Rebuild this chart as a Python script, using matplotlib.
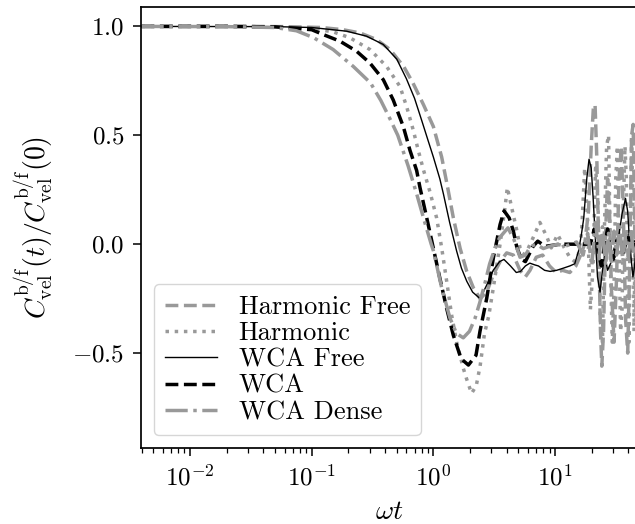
import matplotlib
matplotlib.use('Agg')
from matplotlib import pyplot as plt
from matplotlib.ticker import MultipleLocator
import numpy as np

plt.rcParams['font.family'] = 'serif'
plt.rcParams['font.serif'] = ['cmr10']
plt.rcParams['mathtext.fontset'] = 'cm'
plt.rcParams['axes.formatter.use_mathtext'] = True
plt.rcParams['axes.linewidth'] = 1.25

# Harmonic Free
hf_t = [0.004, 0.02, 0.06, 0.12, 0.18, 0.25, 0.34, 0.44, 0.57, 0.68, 0.83, 1.0, 1.17, 1.3,
        1.46, 1.66, 1.88, 2.13, 2.42, 2.74, 3.11, 3.53, 4.0, 4.54, 5.15, 5.7, 6.22, 7.0, 7.9,
        9.0, 10.2, 11.5, 13.2, 14.8, 16.2, 17.5, 18.8, 19.8, 20.6, 21.3, 22.0, 22.8, 23.6,
        24.2, 25.0, 26.0, 27.0, 28.0, 29.0, 30.5, 32.0, 33.5, 35.0, 36.5, 38.0, 39.5, 41.0,
        42.5, 43.8, 45.0, 46.5]
hf_c = [1.0, 1.0, 0.999, 0.995, 0.985, 0.97, 0.94, 0.894, 0.816, 0.74, 0.64, 0.54, 0.40, 0.27,
        0.12, -0.02, -0.125, -0.2, -0.25, -0.22, -0.14, -0.08, -0.04, -0.05, -0.12, -0.15, -0.12,
        -0.06, -0.05, -0.1, -0.13, -0.12, -0.13, -0.1, -0.05, 0.0, 0.15, 0.45, 0.62, 0.64, 0.4,
        0.0, -0.4, -0.56, -0.4, 0.05, 0.3, 0.15, -0.2, -0.45, -0.15, 0.3, 0.45, 0.1, -0.35,
        -0.5, -0.1, 0.5, 0.55, 0.1, -0.45]

# Harmonic
h_t = [0.004, 0.02, 0.06, 0.1, 0.15, 0.206, 0.301, 0.413, 0.532, 0.604, 0.684, 0.752, 0.83,
       0.938, 1.064, 1.17, 1.286, 1.413, 1.553, 1.762, 1.878, 2.06, 2.25, 2.42, 2.63, 2.85,
       3.11, 3.53, 3.88, 4.05, 4.4, 4.86, 5.15, 5.5, 6.0, 6.6, 7.5, 8.5, 9.3, 10.5, 11.9,
       13.2, 14.5, 15.5, 16.5, 17.5, 18.5, 19.5, 20.5, 21.5, 22.5, 23.5, 24.5, 25.5, 26.5,
       27.5, 28.5, 29.5, 30.5, 31.5, 32.5, 33.5, 34.5, 35.5, 36.5, 37.5, 38.5, 39.5, 40.5,
       41.5, 42.5, 43.5, 44.5, 45.5, 47.0]
h_c = [1.0, 1.0, 0.998, 0.99, 0.975, 0.948, 0.894, 0.816, 0.724, 0.63, 0.523, 0.43, 0.34,
       0.24, 0.12, -0.017, -0.17, -0.326, -0.45, -0.57, -0.62, -0.685, -0.65, -0.56, -0.41,
       -0.33, -0.2, 0.0, 0.17, 0.26, 0.168, 0.06, -0.017, -0.048, -0.02, 0.03, 0.1, 0.037,
       -0.017, 0.045, -0.017, -0.06, -0.08, -0.05, 0.05, 0.35, 0.1, -0.3, -0.1, 0.35, 0.2,
       -0.35, -0.45, 0.1, 0.45, 0.5, -0.1, -0.45, -0.2, 0.3, 0.45, 0.0, -0.4, -0.3, 0.2,
       0.45, 0.3, -0.3, -0.45, 0.1, 0.5, 0.2, -0.4, 0.1, 0.3]

# WCA Free
wf_t = [0.004, 0.05, 0.1, 0.194, 0.283, 0.388, 0.5, 0.6, 0.7, 0.8, 0.9, 1.0, 1.13, 1.21, 1.36,
        1.55, 1.7, 1.88, 2.1, 2.42, 2.73, 3.1, 3.5, 3.8, 4.3, 4.8, 5.2, 5.7, 6.2, 6.8, 7.3,
        8.2, 9.1, 10.3, 11.7, 13.2, 14.5, 15.6, 16.5, 17.2, 18.2, 19.0, 19.8, 20.5, 21.3,
        22.3, 23.4, 24.5, 25.6, 27.0, 29.0, 31.0, 33.0, 35.5, 37.9, 39.5, 41.0, 43.6, 45.0,
        47.0]
wf_c = [1.0, 0.999, 0.995, 0.978, 0.955, 0.917, 0.85, 0.76, 0.67, 0.57, 0.48, 0.40, 0.30, 0.23,
        0.10, -0.03, -0.11, -0.17, -0.22, -0.25, -0.19, -0.12, -0.08, -0.07, -0.10, -0.13,
        -0.125, -0.1, -0.087, -0.095, -0.1, -0.12, -0.125, -0.12, -0.11, -0.1, -0.09, -0.03,
        0.05, 0.12, 0.3, 0.39, 0.35, 0.22, 0.05, -0.15, -0.22, -0.12, -0.05, -0.12, -0.08,
        -0.06, 0.02, 0.14, 0.21, 0.15, 0.0, -0.15, -0.1, 0.05]

# WCA
w_t = [0.004, 0.02, 0.05, 0.1, 0.124, 0.171, 0.234, 0.301, 0.388, 0.468, 0.566, 0.643, 0.729,
       0.776, 0.881, 0.998, 1.13, 1.286, 1.458, 1.69, 1.94, 2.24, 2.415, 2.74, 3.11, 3.53,
       3.81, 4.2, 4.54, 4.86, 5.3, 5.7, 6.6, 7.2, 8.3, 11.0, 13.0, 15.0, 17.0, 19.5, 21.0,
       22.5, 24.0, 25.5, 27.0, 28.5, 30.0, 32.0, 34.0, 36.0, 38.0, 40.0, 42.0, 45.0, 47.0]
w_c = [1.0, 1.0, 0.998, 0.985, 0.963, 0.932, 0.886, 0.832, 0.755, 0.662, 0.54, 0.43, 0.338,
       0.26, 0.122, -0.017, -0.156, -0.295, -0.418, -0.526, -0.555, -0.51, -0.40, -0.25,
       -0.063, 0.09, 0.153, 0.12, 0.06, -0.017, -0.07, -0.08, -0.01, 0.014, -0.01, 0.0, 0.0,
       0.0, 0.0, 0.0, 0.07, -0.03, -0.1, 0.0, 0.07, -0.03, -0.07, 0.02, 0.03, -0.04, 0.0,
       0.04, -0.03, 0.01, 0.0]

# WCA Dense
wd_t = [0.004, 0.02, 0.05, 0.075, 0.104, 0.15, 0.22, 0.305, 0.37, 0.445, 0.51, 0.62, 0.73,
        0.85, 0.96, 1.0, 1.17, 1.37, 1.55, 1.76, 1.98, 2.2, 2.4, 2.65, 2.9, 3.2, 3.5, 4.1,
        4.6, 5.15, 5.7, 6.3, 7.0, 8.0, 9.0, 10.5, 12.0, 13.5, 15.0, 17.0, 18.5, 20.0, 21.5,
        23.0, 24.5, 26.0, 27.5, 29.0, 30.5, 32.0, 34.0, 36.0, 38.0, 40.0, 42.0, 44.0, 47.0]
wd_c = [1.0, 0.999, 0.995, 0.98, 0.948, 0.894, 0.816, 0.74, 0.66, 0.57, 0.5, 0.36, 0.23, 0.1,
        0.0, -0.03, -0.2, -0.34, -0.41, -0.43, -0.40, -0.34, -0.27, -0.18, -0.09, -0.02, 0.03,
        0.075, 0.02, -0.06, -0.05, -0.01, 0.0, -0.02, -0.01, 0.0, -0.01, 0.0, 0.01, -0.05,
        0.05, -0.1, 0.1, -0.05, 0.08, -0.1, 0.05, -0.08, 0.06, -0.05, 0.08, -0.08, 0.05,
        -0.06, 0.07, -0.05, 0.03]

grey = '0.6'
fig = plt.figure(figsize=(6.35, 5.24), dpi=100)
ax = fig.add_axes([0.222, 0.145, 0.781, 0.842])

ax.plot(hf_t, hf_c, color=grey, ls='--', lw=2.5, label='Harmonic Free')
ax.plot(h_t, h_c, color=grey, ls=':', lw=2.5, label='Harmonic')
ax.plot(wf_t, wf_c, color='k', ls='-', lw=1.0, label='WCA Free')
ax.plot(w_t, w_c, color='k', ls='--', lw=2.5, label='WCA')
ax.plot(wd_t, wd_c, color=grey, ls='-.', lw=2.5, label='WCA Dense')

ax.set_xscale('log')
ax.set_xlim(0.00396, 47)
ax.set_ylim(-0.936, 1.09)
ax.yaxis.set_major_locator(MultipleLocator(0.5))
ax.spines['right'].set_visible(False)
ax.tick_params(which='major', length=6, width=1.1, labelsize=18, pad=6)
ax.tick_params(which='minor', length=3.5, width=0.9)

ax.set_xlabel(r'$\omega t$', fontsize=20, labelpad=6)
ax.set_ylabel(r'$C^{\mathrm{b/f}}_{\mathrm{vel}}(t)/C^{\mathrm{b/f}}_{\mathrm{vel}}(0)$', fontsize=20,
              labelpad=12)
ax.legend(loc='lower left', fontsize=19, labelspacing=0.1)

fig.savefig('out.png', dpi=100)
